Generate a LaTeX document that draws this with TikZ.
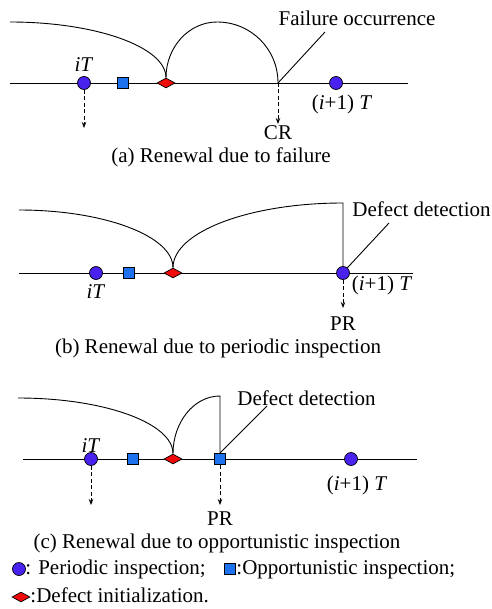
\documentclass[tikz,border=0pt]{standalone}
\usepackage{fontspec}
\setmainfont{Liberation Serif}
\usetikzlibrary{shapes.geometric,arrows.meta}
\definecolor{pblue}{HTML}{4A22F0}
\definecolor{oblue}{HTML}{1F72EE}
\definecolor{dred}{HTML}{F00A0A}
\begin{document}
\begin{tikzpicture}[x=1pt,y=-1pt,line width=0.9pt,
 pcirc/.style={circle,draw,line width=0.7pt,fill=pblue,minimum size=13pt,inner sep=0pt},
 osq/.style={rectangle,draw,line width=0.7pt,fill=oblue,minimum size=11.5pt,inner sep=0pt},
 dmd/.style={diamond,draw,line width=0.7pt,fill=dred,minimum width=18pt,minimum height=10pt,inner sep=0pt},
 lbl/.style={font=\fontsize{21}{25}\selectfont,inner sep=0pt,anchor=base},
 lblw/.style={font=\fontsize{21}{25}\selectfont,inner sep=0pt,anchor=base west},
 darrow/.style={dashed,dash pattern=on 4pt off 2.5pt,line width=0.8pt,-{Stealth[length=6pt,width=4.5pt]}}]
\useasboundingbox (0,0) rectangle (491,609);

% ---------------- panel (a)
\coordinate (aL) at (10,83);
\coordinate (aR) at (408,83);
\draw (aL) -- (aR);
\node[pcirc] (a1) at (84,83) {};
\node[osq] (a2) at (123,83) {};
\node[dmd] (a3) at (166,83) {};
\coordinate (aF) at (278,83);
\node[pcirc] (a4) at (336,83) {};
\coordinate (aS) at (10,22);
\coordinate (aP) at (217,22);
\coordinate (aT) at (325,32);
\draw (aS) .. controls (96,22) and (166,47) .. (a3.north);
\draw (a3.north) .. controls (166,47) and (189,22) .. (aP)
      .. controls (251,22) and (278,49) .. (aF);
\draw (aF) -- (aT);
\node[lbl] (aFO) at (357,26) {Failure occurrence};
\node[lbl] (aiT) at (84,72) {\textit{iT}};
\node[lbl] (ai1) at (342,110) {(\textit{i}+1) \textit{T}};
\coordinate (aD1) at (84,128);
\coordinate (aD2) at (278,124);
\draw[darrow] (a1.south) -- (aD1);
\draw[darrow] (aF) -- (aD2);
\node[lbl] (aCR) at (278,140) {CR};
\node[lbl] (acap) at (221,163) {(a) Renewal due to failure};

% ---------------- panel (b)
\coordinate (bL) at (19,273);
\coordinate (bR) at (413,273);
\draw (bL) -- (bR);
\node[pcirc] (b1) at (96,273) {};
\node[osq] (b2) at (129,273) {};
\node[dmd] (b3) at (173,273) {};
\node[pcirc] (b4) at (343,273) {};
\coordinate (bS) at (19,210);
\coordinate (bC) at (343,203);
\coordinate (bT) at (389,223);
\draw (bS) .. controls (104,210) and (173,236) .. (b3.north);
\draw (b3.north) .. controls (173,232) and (249,203) .. (bC) -- (b4.north);
\draw (b4.50) -- (bT);
\node[lblw] (bDD) at (352,217) {Defect detection};
\node[lbl] (biT) at (96,298) {\textit{iT}};
\node[lbl] (bi1) at (382,290) {(\textit{i}+1) \textit{T}};
\coordinate (bD) at (343,308);
\draw[darrow] (b4.south) -- (bD);
\node[lbl] (bPR) at (343,330) {PR};
\node[lbl] (bcap) at (218,353) {(b) Renewal due to periodic inspection};

% ---------------- panel (c)
\coordinate (cL) at (23,459);
\coordinate (cR) at (417,459);
\draw (cL) -- (cR);
\node[pcirc] (c1) at (91,459) {};
\node[osq] (c2) at (133,459) {};
\node[dmd] (c3) at (173,459) {};
\node[osq] (c4) at (220,459) {};
\node[pcirc] (c5) at (351,459) {};
\coordinate (cS) at (18,398);
\coordinate (cC) at (220,396);
\coordinate (cT) at (267,406);
\draw (cS) .. controls (104,398) and (173,423) .. (c3.north);
\draw (c3.north) .. controls (173,422) and (194,396) .. (cC) -- (c4.north);
\draw (c4.north) -- (cT);
\node[lblw] (cDD) at (237,405) {Defect detection};
\node[lbl] (ciT) at (91,452) {\textit{iT}};
\node[lbl] (ci1) at (357,490) {(\textit{i}+1) \textit{T}};
\coordinate (cD1) at (91,505);
\coordinate (cD2) at (220,505);
\draw[darrow] (c1.south) -- (cD1);
\draw[darrow] (c4.south) -- (cD2);
\node[lbl] (cPR) at (220,525) {PR};
\node[lbl] (ccap) at (217,548) {(c) Renewal due to opportunistic inspection};

% ---------------- legend
\node[pcirc] (l1) at (19,569) {};
\node[lblw] (l1t) at (25,574) {: Periodic inspection;};
\node[osq] (l2) at (230,569) {};
\node[lblw] (l2t) at (236,574) {:Opportunistic inspection;};
\node[dmd] (l3) at (21,597) {};
\node[lblw] (l3t) at (30,602) {:Defect initialization.};
\end{tikzpicture}
\end{document}
